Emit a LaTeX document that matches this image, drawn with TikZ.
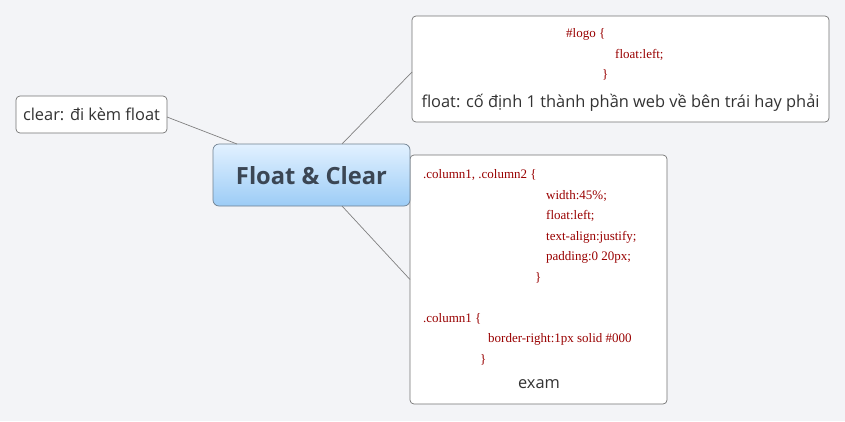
\documentclass[tikz,border=0pt]{standalone}
\usepackage{fontspec}
\usetikzlibrary{calc}
\setmainfont{Open Sans}
\newfontfamily\codefont{Liberation Serif}
\begin{document}
\begin{tikzpicture}[x=1pt,y=-1pt,
  box/.style={draw=black!55,fill=white,rounded corners=4pt,line width=0.7pt,inner sep=0,outer sep=0},
  link/.style={draw=black!50,line width=0.7pt},
  code/.style={anchor=base west,inner sep=0,text=red!60!black,font=\codefont\fontsize{13}{15}\selectfont},
  txt/.style={inner sep=0,text=black!80,font=\fontsize{16.4}{19}\selectfont}]
\definecolor{bg}{HTML}{F3F4F7}
\definecolor{ctop}{HTML}{E2F1FF}
\definecolor{cbot}{HTML}{9CCCF6}
\definecolor{ctext}{HTML}{3B4654}
\definecolor{cborder}{HTML}{6F8090}
\fill[bg] (0,0) rectangle (845,421);
\useasboundingbox (0,0) rectangle (845,421);
% boxes
\node[box,minimum width=151pt,minimum height=37pt] (clear) at (91.5,114.5) {};
\node[box,minimum width=417pt,minimum height=106pt] (top) at (620.5,69) {};
\node[box,minimum width=257pt,minimum height=249pt] (bot) at (538.5,279.5) {};
\node[inner sep=0,outer sep=0,minimum width=197pt,minimum height=62pt,rounded corners=6pt,
  top color=ctop,bottom color=cbot,draw=cborder,line width=0.7pt] (central) at (311.5,175) {};
% connectors
\draw[link] ($(clear.east)+(0,2.5)$) -- ($(central.north west)+(24,0)$);
\draw[link] ($(central.north west)+(129,0)$) -- ($(top.west)+(0,3)$);
\draw[link] ($(central.south west)+(129,0)$) -- (bot.west);
% texts
\node[txt,anchor=center] (clearT) at (clear) {clear: đi kèm float};
\node[inner sep=0,text=ctext,font=\bfseries\fontsize{23.7}{27}\selectfont] (centralT) at (311.5,175.5) {Float \& Clear};
\node[code] (l1) at (566,37) {\#logo \{};
\node[code] (l2) at (615,58) {float:left;};
\node[code] (l3) at (602,78) {\}};
\node[txt,anchor=center] (floatT) at (620.5,103) {float: cố định 1 thành phần web về bên trái hay phải};
\node[code] (c1) at (423,178) {.column1, .column2 \{};
\node[code] (c2) at (546,199) {width:45\%;};
\node[code] (c3) at (546,219) {float:left;};
\node[code] (c4) at (546,240) {text-align:justify;};
\node[code] (c5) at (546,260) {padding:0 20px;};
\node[code] (c6) at (535,281) {\}};
\node[code] (c7) at (423,322) {.column1 \{};
\node[code] (c8) at (488,342) {border-right:1px solid \#000};
\node[code] (c9) at (480,363) {\}};
\node[txt,anchor=center] (exam) at (539,384) {exam};
\end{tikzpicture}
\end{document}
